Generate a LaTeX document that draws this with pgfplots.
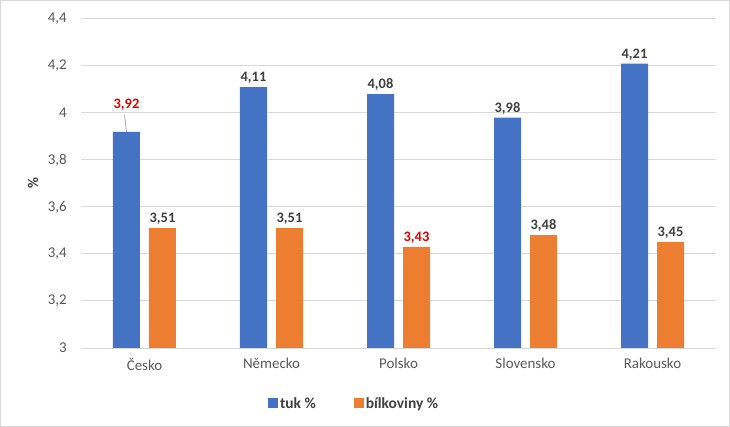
\documentclass[border=0pt]{standalone}
\usepackage{fontspec}
\setmainfont{Carlito}
\usepackage{pgfplots}
\pgfplotsset{compat=1.18}
\definecolor{cblue}{HTML}{4472C4}
\definecolor{corange}{HTML}{ED7D31}
\definecolor{cgrid}{HTML}{D9D9D9}
\definecolor{ctick}{HTML}{595959}
\definecolor{clab}{HTML}{404040}
\definecolor{cred}{HTML}{E00000}
\begin{document}
\begin{tikzpicture}
\begin{axis}[
  scale only axis, width=635bp, height=329bp,
  ybar, bar width=27bp,
  xmin=-0.5, xmax=4.5, ymin=3, ymax=4.4,
  ytick={3,3.2,...,4.41},
  xtick={0,1,2,3,4},
  xticklabels={Česko,Německo,Polsko,Slovensko,Rakousko},
  axis line style={draw=none},
  major tick length=0pt,
  ymajorgrids, grid style={cgrid, line width=1pt},
  /pgf/number format/assume math mode=true,
  /pgf/number format/use comma,
  yticklabel style={font=\fontsize{15}{18}\selectfont, text=ctick, inner sep=0pt, xshift=-14bp},
  xticklabel style={font=\fontsize{15}{18}\selectfont, text=ctick, inner sep=0pt, yshift=-10bp},
  ylabel={\%},
  ylabel style={at={(axis description cs:-0.0756,0.5)}, anchor=center, font=\bfseries\fontsize{15}{18}\selectfont, text=clab},
  nodes near coords style={font=\bfseries\fontsize{14.5}{17}\selectfont, text=clab,
     /pgf/number format/.cd, fixed, fixed zerofill, precision=2, use comma, assume math mode=true},
  legend style={at={(axis description cs:0.43,-0.170)}, anchor=center, draw=none, fill=none,
     legend columns=2, font=\bfseries\fontsize{15.5}{18}\selectfont, text=clab,
     /tikz/every even column/.append style={column sep=36bp}},
  legend image code/.code={\fill[#1,draw=none] (0bp,-4.5bp) rectangle (10bp,5.5bp);},
  clip=false,
]
\addplot[fill=cblue, draw=none, bar shift=-18bp,
  visualization depends on={value \coordindex \as \idx},
  nodes near coords={\ifnum\idx=0 \raisebox{20bp}{\textcolor{cred}{\pgfmathprintnumber{\pgfplotspointmeta}}}\else\pgfmathprintnumber{\pgfplotspointmeta}\fi}]
  coordinates {(0,3.92) (1,4.11) (2,4.08) (3,3.98) (4,4.21)};
\addplot[fill=corange, draw=none, bar shift=18bp,
  visualization depends on={value \coordindex \as \idx},
  nodes near coords={\ifnum\idx=2 \textcolor{cred}{\pgfmathprintnumber{\pgfplotspointmeta}}\else\pgfmathprintnumber{\pgfplotspointmeta}\fi}]
  coordinates {(0,3.51) (1,3.51) (2,3.43) (3,3.48) (4,3.45)};
\legend{tuk \%, bílkoviny \%}
\draw[gray!70, line width=0.8pt] ([xshift=-20bp,yshift=17bp]axis cs:0,3.92) -- ([xshift=-18bp]axis cs:0,3.92);
\draw[cgrid, line width=1.5pt, use as bounding box] (axis cs:-0.5,3) ++(-80.25bp,-78.25bp) rectangle ++(728.5bp,425.5bp);
\end{axis}
\end{tikzpicture}
\end{document}
